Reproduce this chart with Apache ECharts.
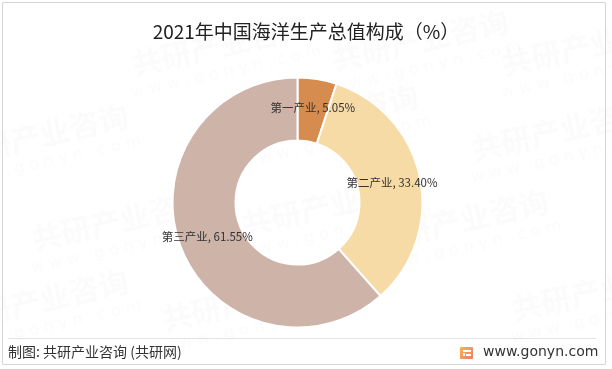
<!DOCTYPE html>
<html><head><meta charset="utf-8">
<script src="https://cdn.jsdelivr.net/npm/echarts@6/dist/echarts.min.js"></script>
<style>html,body{margin:0;padding:0;background:#fff;}#c{width:612px;height:369px;}</style>
</head><body><div id="c"></div>
<script>
var categories = ['第一产业', '第二产业', '第三产业'];
var values = [5.05, 33.40, 61.55];
var colors = ['#D58C4E', '#F7DBA6', '#CDB3A8'];
var titleText = '2021年中国海洋生产总值构成（%）';
var sourceText = '制图: 共研产业咨询 (共研网)';
var siteText = 'www.gonyn.com';

var chart = echarts.init(document.getElementById('c'), null, {renderer: 'canvas'});
var wm = [];
var wmPos = [[40,135],[220,45],[420,40],[330,115],[590,45],[120,220],[560,130],[460,220],[40,300],[250,300],[600,290],[330,205]];
wmPos.forEach(function(p){
  wm.push({type:'group', x:p[0], y:p[1], rotation: 0.22, silent:true, z:100, children:[
    {type:'text', style:{text:'共研产业咨询', x:0, y:0, align:'center', verticalAlign:'middle', font:'bold 30px "Noto Sans CJK SC"', fill:'rgba(150,150,150,0.035)'}},
    {type:'text', style:{text:'w w w . g o n y n . c o m', x:0, y:28, align:'center', verticalAlign:'middle', font:'16px "DejaVu Sans"', fill:'rgba(150,150,150,0.035)'}}
  ]});
});
var option = {
  backgroundColor: '#fff',
  animation: false,
  title: {
    text: titleText, left: 'center', top: 17,
    textStyle: {fontFamily: '"Noto Sans CJK SC"', fontSize: 19, fontWeight: 'normal', color: '#222'}
  },
  graphic: [
    {type:'rect', shape:{x:2.5, y:2.5, width:603, height:362}, style:{fill:'none', stroke:'#d6d6d6', lineWidth:1}, silent:true, z:-1},
    {type:'line', shape:{x1:8, y1:338.5, x2:596, y2:338.5}, style:{stroke:'#e4e4e4', lineWidth:1}, silent:true},
    {type:'text', left:8, top:345, style:{text: sourceText, font:'14px "Noto Sans CJK SC"', fill:'#333'}},
    {type:'text', left:483, top:345, style:{text: siteText, font:'14px "DejaVu Sans"', fill:'#333'}},
    {type:'rect', shape:{x:460, y:347, width:13, height:12, r:1}, style:{fill:new echarts.graphic.LinearGradient(0,0,1,1,[{offset:0,color:'#F9B24E'},{offset:1,color:'#F27A6A'}])}},
    {type:'rect', shape:{x:463, y:350, width:8, height:2}, style:{fill:'#fff'}},
    {type:'rect', shape:{x:463, y:353, width:2, height:3}, style:{fill:'#fff'}},
    {type:'rect', shape:{x:466, y:354, width:5, height:2}, style:{fill:'#fff'}}
  ].concat(wm),
  series: [{
    type: 'pie',
    center: [297.5, 202.5],
    radius: [62, 125],
    startAngle: 90,
    clockwise: true,
    avoidLabelOverlap: false,
    itemStyle: {borderColor: '#fff', borderWidth: 2},
    label: {
      show: true, position: 'inside',
      fontFamily: '"Noto Sans CJK SC"', fontSize: 11.5, color: '#333',
      formatter: function(p){ return p.name + ', ' + values[p.dataIndex].toFixed(2) + '%'; }
    },
    labelLine: {show: false},
    emphasis: {disabled: true},
    data: categories.map(function(c, i){ return {name: c, value: values[i], itemStyle: {color: colors[i]}}; })
  }]
};
chart.setOption(option);
</script></body></html>
